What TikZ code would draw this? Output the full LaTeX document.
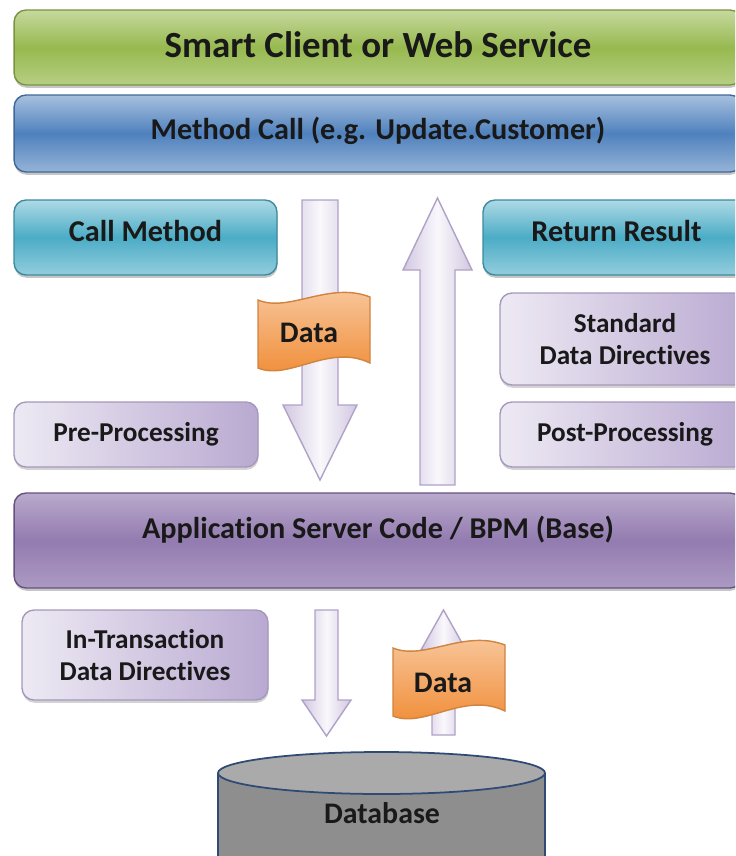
\documentclass[tikz,border=0pt]{standalone}
\usepackage{fontspec}
\setmainfont[Ligatures=NoCommon]{Carlito}
\usetikzlibrary{shadows}
\usetikzlibrary{calc}
\definecolor{zold}{HTML}{97B94F}
\definecolor{kek}{HTML}{4F81BD}
\definecolor{turkiz}{HTML}{4BACC6}
\definecolor{lila}{HTML}{8064A2}
\definecolor{halvany}{HTML}{B9A9D1}
\definecolor{narancs}{HTML}{F08A32}
\definecolor{szurke}{HTML}{8E8E8E}
\definecolor{keret}{HTML}{2E4A75}

\begin{document}
\begin{tikzpicture}[x=0.02cm,y=-0.02cm,
sav/.style={rectangle,rounded corners=2.4mm,thick,minimum width=14.56cm,text=black!90,
  font=\bfseries\fontsize{17.2}{20}\selectfont,
  drop shadow={shadow xshift=.3pt,shadow yshift=-1.6pt,opacity=.45}},
doboz/.style={rectangle,rounded corners=2.4mm,thick,align=center,text=black!90,
  font=\bfseries\fontsize{15.5}{18.3}\selectfont,
  left color=halvany!25,right color=halvany,draw=halvany!90!black,
  drop shadow={shadow xshift=.3pt,shadow yshift=-1.6pt,opacity=.35}},
nyil/.style={left color=halvany!65,right color=halvany!65,middle color=halvany!8,draw=halvany!95!black,thick},
zaszlo/.style={top color=narancs!45,bottom color=narancs,draw=narancs!85!black!90,thick},
adat/.style={font=\bfseries\fontsize{17}{20}\selectfont,text=black!90}
]
\useasboundingbox (0,0) rectangle (735,856);
\clip (0,0) rectangle (735,856);
\node[sav,minimum height=1.5cm,top color=zold!55,bottom color=zold!70,middle color=zold,draw=zold!80!black,
  font=\bfseries\fontsize{21}{24}\selectfont](kliens) at (378,47.5){\raisebox{2.8pt}{Smart Client or Web Service}};
\node[sav,minimum height=1.54cm,top color=kek!50,bottom color=kek!60,middle color=kek,draw=kek!80!black](hivas) at (378,133.5)
  {\raisebox{5.7pt}{Method Call (e.g. Update.Customer)}};
\node[sav,minimum width=5.26cm,minimum height=1.5cm,top color=turkiz!45,bottom color=turkiz!60,middle color=turkiz,draw=turkiz!80!black](meghiv)
  at (145.5,237.5){\raisebox{8pt}{Call Method}};
\node[sav,minimum width=5.34cm,minimum height=1.5cm,top color=turkiz!45,bottom color=turkiz!60,middle color=turkiz,draw=turkiz!80!black](visszaad)
  at (616.5,237.5){\raisebox{8pt}{Return Result}};
\node[doboz,minimum width=5cm,minimum height=1.84cm](standard) at (625,339){Standard\\Data Directives};
\node[doboz,minimum width=4.88cm,minimum height=1.3cm](elo) at (136,434.5){Pre-Processing};
\node[doboz,minimum width=5cm,minimum height=1.3cm](uto) at (625,434.5){Post-Processing};
\node[sav,minimum height=1.9cm,top color=lila!55,bottom color=lila!65,middle color=lila!85,draw=lila!80!black](alk) at (378,540.5)
  {\raisebox{15pt}{Application Server Code / BPM (Base)}};
\node[doboz,minimum width=4.92cm,minimum height=1.8cm](tranz) at (145,655){In-Transaction\\Data Directives};
\begin{scope}
\shade[nyil] (302,200)--(338,200)--(338,405)--(357,405)--(320,480)--(283,405)--(302,405)--cycle;
\shade[nyil] (420,485)--(420,270)--(403,270)--(437.5,198)--(472,270)--(455,270)--(455,485)--cycle;
\shade[nyil] (315,610)--(338,610)--(338,700)--(351,700)--(326.5,736)--(302,700)--(315,700)--cycle;
\shade[nyil] (432,735)--(432,650)--(421,650)--(443.5,610)--(466,650)--(455,650)--(455,735)--cycle;
\end{scope}
\shade[zaszlo,shift={(314,333)}] (-56,-33) .. controls (-25,-20) and (15,-52) .. (56,-36) -- (56,30)
  .. controls (15,10) and (-25,48) .. (-56,35) -- cycle;
\node[adat](adat-le) at (309,333){Data};
\shade[zaszlo,shift={(449,681)}] (-56,-33) .. controls (-25,-20) and (15,-52) .. (56,-36) -- (56,30)
  .. controls (15,10) and (-25,48) .. (-56,35) -- cycle;
\node[adat](adat-fel) at (443,683){Data};
\draw[keret,line width=1pt,fill=szurke] (218,773)--(218,880)--(545,880)--(545,773);
\draw[keret,line width=1pt,fill=szurke!75] (381.5,773) ellipse [x radius=163.5,y radius=21];
\node[adat](adatbazis) at (382,813){Database};
\end{tikzpicture}
\end{document}
